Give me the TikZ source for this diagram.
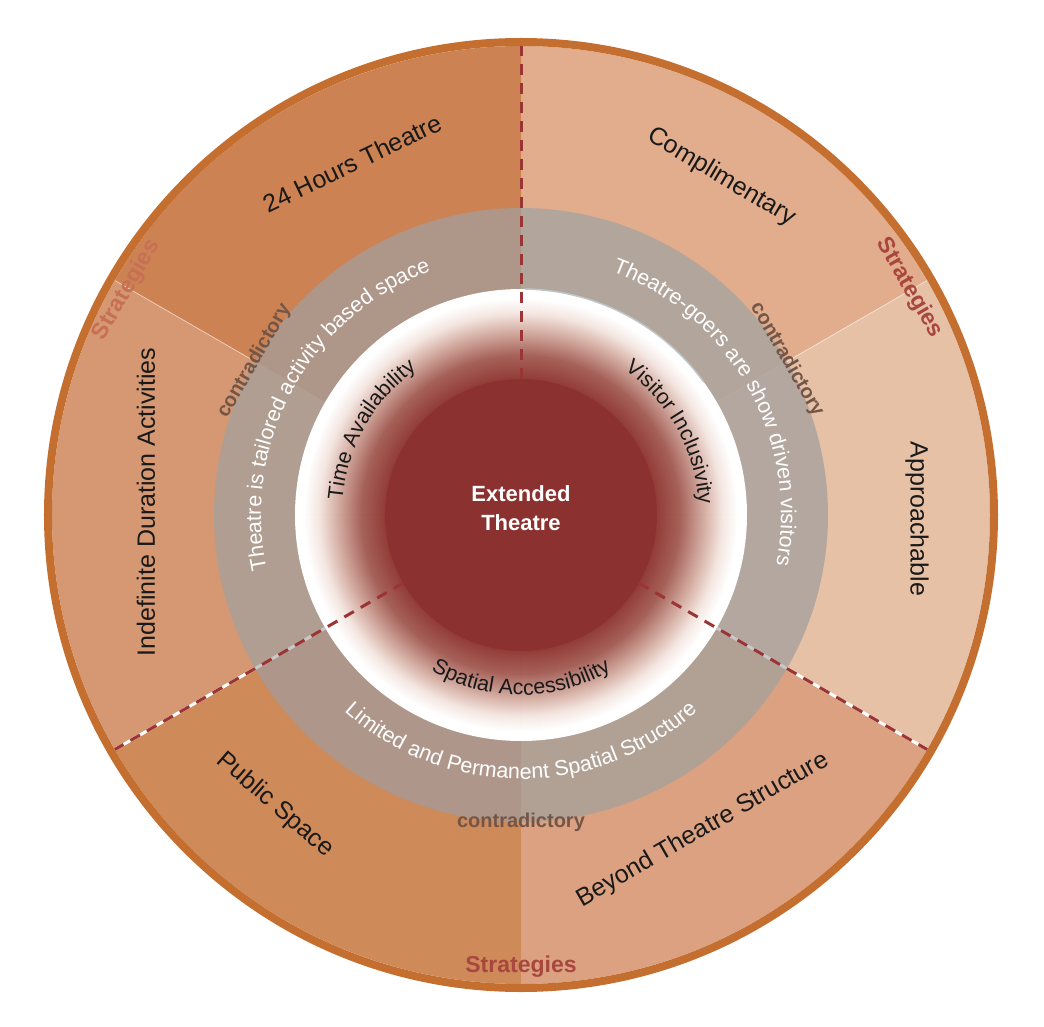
\documentclass[tikz,border=0pt]{standalone}
\usepackage{fontspec}
\setmainfont{Liberation Sans}
\usetikzlibrary{decorations.text}
\definecolor{exred}{HTML}{8B3230}
\definecolor{glowO}{HTML}{933D38}
\definecolor{glowA}{HTML}{A6625A}
\definecolor{glowB}{HTML}{D5AEA3}
\definecolor{glowC}{HTML}{F4E6E1}
\definecolor{rimcol}{HTML}{C46E30}
\definecolor{sA}{HTML}{CC8252}
\definecolor{sB}{HTML}{D69872}
\definecolor{sC}{HTML}{CF8A5A}
\definecolor{sD}{HTML}{DBA181}
\definecolor{sE}{HTML}{E6C1A6}
\definecolor{sF}{HTML}{E1AD8D}
\definecolor{gA}{HTML}{AE9689}
\definecolor{gB}{HTML}{AF9E91}
\definecolor{gC}{HTML}{AE978A}
\definecolor{gD}{HTML}{B1A195}
\definecolor{gE}{HTML}{B4A79F}
\definecolor{gF}{HTML}{B2A59C}
\definecolor{dashred}{HTML}{9B3535}
\definecolor{contracol}{HTML}{735648}
\definecolor{stratred}{HTML}{A8473F}
\definecolor{stratlight}{HTML}{C66F55}
\definecolor{edgegray}{HTML}{BFC6C8}
\definecolor{undergray}{HTML}{C8C8C8}
\begin{document}
\begin{tikzpicture}[x=1pt,y=1pt,
  outertext/.style={font=\fontsize{25}{25}\selectfont, text=black!90, inner sep=0pt},
  contra/.style={font=\bfseries\fontsize{20}{20}\selectfont, text=contracol, inner sep=0pt},
  strat/.style={font=\bfseries\fontsize{23}{23}\selectfont, inner sep=0pt},
  dashline/.style={draw=dashred, line width=3pt, dash pattern=on 11pt off 8pt},
  sep/.style={draw=white, draw opacity=0.5, line width=0.8pt},
  ctext/.style={font=\bfseries\fontsize{22}{29}\selectfont, text=white, align=center}
]
\useasboundingbox (-521,-511) rectangle (523,515);
% outer sectors
\fill[sF] (0,0) -- (30:469) arc[start angle=30, end angle=90, radius=469] -- cycle;
\fill[sA] (0,0) -- (90:469) arc[start angle=90, end angle=150, radius=469] -- cycle;
\fill[sB] (0,0) -- (150:469) arc[start angle=150, end angle=210, radius=469] -- cycle;
\fill[sC] (0,0) -- (210:469) arc[start angle=210, end angle=270, radius=469] -- cycle;
\fill[sD] (0,0) -- (270:469) arc[start angle=270, end angle=330, radius=469] -- cycle;
\fill[sE] (0,0) -- (330:469) arc[start angle=330, end angle=390, radius=469] -- cycle;
\draw[rimcol, line width=8pt] (0,0) circle[radius=473];
% gray ring sectors
\fill[gF] (0,0) -- (30:307) arc[start angle=30, end angle=90, radius=307] -- cycle;
\fill[gA] (0,0) -- (90:307) arc[start angle=90, end angle=150, radius=307] -- cycle;
\fill[gB] (0,0) -- (150:307) arc[start angle=150, end angle=210, radius=307] -- cycle;
\fill[gC] (0,0) -- (210:307) arc[start angle=210, end angle=270, radius=307] -- cycle;
\fill[gD] (0,0) -- (270:307) arc[start angle=270, end angle=330, radius=307] -- cycle;
\fill[gE] (0,0) -- (330:307) arc[start angle=330, end angle=390, radius=307] -- cycle;
% glow disk (concentric fills) and core
\foreach \ra/\rb/\ca/\cb in {226/217/white/white, 217/202/white/glowC, 202/184/glowC/glowB, 184/160/glowB/glowA, 160/137/glowA/glowO}{
  \pgfmathtruncatemacro\nn{\ra-\rb}
  \foreach \k in {0,...,\nn}{
    \pgfmathsetmacro\rr{\ra-\k}
    \pgfmathtruncatemacro\pp{100*\k/\nn}
    \fill[fill={\cb!\pp!\ca}] (0,0) circle[radius=\rr];
  }
}
\draw[edgegray, line width=1.5pt] (89:226) arc[start angle=89, end angle=36, radius=226];
\fill[exred] (0,0) circle[radius=136];
% separators
\draw[sep] (30:307) -- (30:469);
\draw[sep] (150:307) -- (150:469);
\draw[white, line width=3pt] (210:307) -- (210:469);
\draw[white, line width=3pt] (330:307) -- (330:469);
\draw[undergray, line width=3pt] (210:226) -- (210:307);
\draw[undergray, line width=3pt] (330:226) -- (330:307);
\draw[dashline] (90:136) -- (90:469);
\draw[dashline] (210:136) -- (210:469);
\draw[dashline] (330:136) -- (330:469);
% centre
\node[ctext] (core) at (0,7) {Extended\\Theatre};
% outer labels
\node[outertext, rotate=25.6] (t24) at (115.6:390) {24 Hours Theatre};
\node[outertext, rotate=-30.7] (tcomp) at (59.3:393) {Complimentary};
\node[outertext, rotate=90] (tind) at (-375,13) {Indefinite Duration Activities};
\node[outertext, rotate=-90] (tapp) at (396,-4) {Approachable};
\node[outertext, rotate=-41] (tpub) at (-246,-290) {Public Space};
\node[outertext, rotate=30] (tbey) at (182,-315) {Beyond Theatre Structure};
% contradictory / strategies
\node[contra, rotate=60] (c1) at (150:308) {contradictory};
\node[contra, rotate=-60] (c2) at (30.3:308) {contradictory};
\node[contra] (c3) at (0,-307) {contradictory};
\node[strat, text=stratlight, rotate=60] (s1) at (150.3:454) {Strategies};
\node[strat, text=stratred, rotate=-60] (s2) at (30.3:450) {Strategies};
\node[strat, text=stratred] (s3) at (0,-452) {Strategies};
% curved ring labels
\path[decorate, decoration={text along path, text align=center,
  text={|\fontsize{21.5}{21.5}\selectfont\color{white}|Theatre is tailored activity based space}}]
  (221.2:260) arc[start angle=221.2, end angle=81.2, radius=260];
\path[decorate, decoration={text along path, text align=center,
  text={|\fontsize{21.5}{21.5}\selectfont\color{white}|Theatre-goers are show driven visitors}}]
  (99.2:260) arc[start angle=99.2, end angle=-40.8, radius=260];
\path[decorate, decoration={text along path, text align=center,
  text={|\fontsize{21.5}{21.5}\selectfont\color{white}|Limited and Permanent Spatial Structure}}]
  (200:264) arc[start angle=200, end angle=340, radius=264];
\path[decorate, decoration={text along path, text align=center,
  text={|\fontsize{21.5}{21.5}\selectfont\color{black!90}|Time Availability}}]
  (210.5:179) arc[start angle=210.5, end angle=90.5, radius=179];
\path[decorate, decoration={text along path, text align=center,
  text={|\fontsize{21.5}{21.5}\selectfont\color{black!90}|Visitor Inclusivity}}]
  (89:178) arc[start angle=89, end angle=-31, radius=178];
\path[decorate, decoration={text along path, text align=center,
  text={|\fontsize{21.5}{21.5}\selectfont\color{black!90}|Spatial Accessibility}}]
  (210:180) arc[start angle=210, end angle=330, radius=180];
\end{tikzpicture}
\end{document}
